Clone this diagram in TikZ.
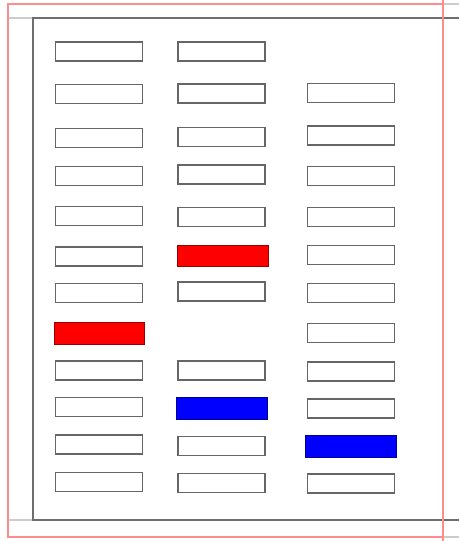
\documentclass[tikz,border=0pt]{standalone}
\usetikzlibrary{positioning}
\definecolor{rule}{HTML}{FF8C8C}
\definecolor{edge}{HTML}{6E6E6E}
\definecolor{faint}{HTML}{CCCCCC}
\definecolor{outline}{HTML}{666666}
\tikzset{
  slot/.style={draw=outline,line width=1.5pt,minimum width=87pt,minimum height=19pt,inner sep=0pt},
  hot/.style={slot,fill=red,draw=red!60!black,line width=0.6pt,minimum width=90pt,minimum height=22pt},
  cold/.style={slot,fill=blue,draw=blue!60!black,line width=0.6pt,minimum width=91pt,minimum height=22pt},
}
\begin{document}
\begin{tikzpicture}[x=1pt,y=-1pt]
\useasboundingbox (0,0) rectangle (459,541);
% page frame
\draw[faint,line width=1.2pt] (443,4) -- (459,4) (443,537) -- (459,537);
\draw[faint,line width=1.2pt] (8,18) -- (33,18) (8,520) -- (33,520);
\draw[edge,line width=1.4pt] (459,18) -- (33,18) -- (33,520) -- (459,520);
\draw[rule,line width=1.4pt] (443,0) -- (443,541) (443,4) -- (8,4) -- (8,537) -- (443,537);
% left column
\foreach \n/\y in {1/51.7,2/94,3/138,4/176,5/216,6/256.5,7/293,9/370.7,10/407,11/444.7,12/482}
  \node[slot] (a\n) at (99,\y) {};
\node[hot] (a8) at (99.2,333.3) {};
% middle column
\foreach \n/\y in {1/51.5,2/93.5,3/137,4/174.5,5/217,7/291.5,9/370.7,11/446,12/482.8}
  \node[slot] (b\n) at (221.5,\y) {};
\node[hot,minimum width=91pt,minimum height=21pt] (b6) at (222.5,255.5) {};
\node[cold] (b10) at (222,408) {};
% right column
\foreach \n/\y in {2/93,3/135.5,4/176,5/217,6/255,7/293,8/332.8,9/371.7,10/408.3,12/483.3}
  \node[slot] (c\n) at (351,\y) {};
\node[cold] (c11) at (350.5,445.8) {};
\end{tikzpicture}
\end{document}
